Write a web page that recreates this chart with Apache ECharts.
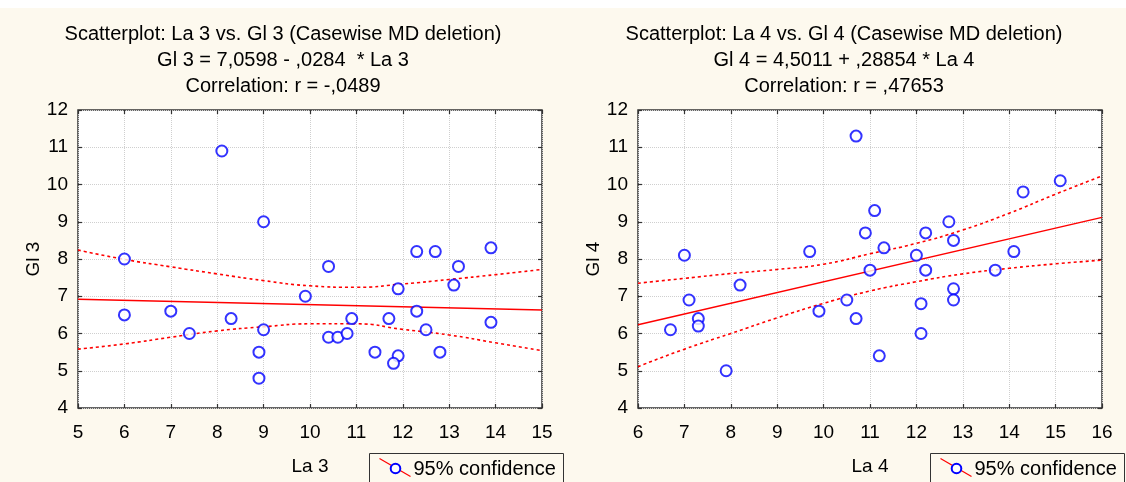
<!DOCTYPE html>
<html>
<head>
<meta charset="utf-8">
<script src="https://cdn.jsdelivr.net/npm/echarts@6/dist/echarts.min.js"></script>
<style>
html,body{margin:0;padding:0;background:#fff;}
#c{width:1126px;height:482px;}
</style>
</head>
<body>
<div id="c"></div>
<script>
// ---- Left plot data (La 3 vs Gl 3) ----
const la3 = [6, 6, 8.1, 9, 7, 7.4, 8.3, 9, 8.9, 8.9, 9.9, 10.4, 10.4, 10.6, 10.8, 10.9, 11.4, 11.7, 11.9, 11.9, 11.8, 12.3, 12.3, 12.7, 12.5, 12.8, 13.2, 13.1, 13.9, 13.9];
const gl3 = [8, 6.5, 10.9, 9, 6.6, 6.0, 6.4, 6.1, 5.5, 4.8, 7.0, 7.8, 5.9, 5.9, 6.0, 6.4, 5.5, 6.4, 7.2, 5.4, 5.2, 8.2, 6.6, 8.2, 6.1, 5.5, 7.8, 7.3, 8.3, 6.3];
const fit3 = { intercept: 7.0598, slope: -0.0284 };
const band3X = [5, 6, 7, 8, 9, 10, 11, 12, 13, 14, 15];
const band3Upper = [8.24, 7.99, 7.79, 7.6, 7.42, 7.28, 7.24, 7.33, 7.45, 7.58, 7.72];
const band3Lower = [5.58, 5.72, 5.9, 6.07, 6.18, 6.26, 6.26, 6.11, 5.96, 5.75, 5.54];

// ---- Right plot data (La 4 vs Gl 4) ----
const la4 = [10.7, 11.1, 10.9, 9.7, 7.0, 8.2, 7.1, 7.3, 7.3, 6.7, 7.9, 9.9, 10.5, 10.7, 11.0, 11.2, 11.3, 12.0, 12.2, 12.2, 12.1, 12.1, 12.7, 12.8, 12.8, 12.8, 13.7, 14.1, 14.3, 15.1];
const gl4 = [11.3, 9.3, 8.7, 8.2, 8.1, 7.3, 6.9, 6.4, 6.2, 6.1, 5.0, 6.6, 6.9, 6.4, 7.7, 5.4, 8.3, 8.1, 8.7, 7.7, 6.8, 6.0, 9.0, 8.5, 7.2, 6.9, 7.7, 8.2, 9.8, 10.1];
const fit4 = { intercept: 4.5011, slope: 0.28854 };
const band4X = [6, 7, 8, 9, 10, 11, 12, 13, 14, 15, 16];
const band4Upper = [7.35, 7.48, 7.61, 7.72, 7.86, 8.14, 8.42, 8.78, 9.23, 9.74, 10.23];
const band4Lower = [5.11, 5.58, 6.0, 6.42, 6.81, 7.14, 7.39, 7.6, 7.75, 7.87, 7.97];

// ---- Text ----
const titles = [
  'Scatterplot: La 3 vs. Gl 3 (Casewise MD deletion)\nGl 3 = 7,0598 - ,0284  * La 3\nCorrelation: r = -,0489',
  'Scatterplot: La 4 vs. Gl 4 (Casewise MD deletion)\nGl 4 = 4,5011 + ,28854 * La 4\nCorrelation: r = ,47653'
];
const xNames = ['La 3', 'La 4'];
const yNames = ['Gl 3', 'Gl 4'];
const legendText = '95% confidence';

const FONT = 'Liberation Sans, Arial, sans-serif';
const FRAME = '#333333';
const zip = (a, b) => a.map((v, i) => [v, b[i]]);

const panels = [
  { xs: la3, ys: gl3, fit: fit3, bx: band3X, bu: band3Upper, bl: band3Lower, xmin: 5, xmax: 15, left: 78 },
  { xs: la4, ys: gl4, fit: fit4, bx: band4X, bu: band4Upper, bl: band4Lower, xmin: 6, xmax: 16, left: 638 }
];

const grid = [], xAxis = [], yAxis = [], series = [], title = [];
panels.forEach((p, i) => {
  grid.push({ left: p.left, top: 110, width: 464, height: 298, show: true, backgroundColor: '#ffffff', borderColor: FRAME, borderWidth: 1.5 });
  const tick = { show: true, inside: true, length: 4, lineStyle: { color: FRAME, width: 1.2 } };
  xAxis.push({
    type: 'value', gridIndex: i, min: p.xmin, max: p.xmax, interval: 1, position: 'bottom',
    axisLine: { show: false }, axisTick: tick,
    axisLabel: { color: '#000', fontFamily: FONT, fontSize: 19, margin: 15 },
    splitLine: { show: true, lineStyle: { color: '#cfcfcf', type: [1, 1], width: 1 } },
    name: xNames[i], nameLocation: 'middle', nameGap: 49,
    nameTextStyle: { color: '#000', fontFamily: FONT, fontSize: 19 }
  });
  xAxis.push({
    type: 'value', gridIndex: i, min: p.xmin, max: p.xmax, interval: 1, position: 'top',
    axisLine: { show: false }, axisTick: tick, axisLabel: { show: false }, splitLine: { show: false }
  });
  yAxis.push({
    type: 'value', gridIndex: i, min: 4, max: 12, interval: 1, position: 'left',
    axisLine: { show: false }, axisTick: tick,
    axisLabel: { color: '#000', fontFamily: FONT, fontSize: 19, margin: 10 },
    splitLine: { show: true, lineStyle: { color: '#cfcfcf', type: [1, 1], width: 1 } },
    name: yNames[i], nameLocation: 'middle', nameGap: 34, nameRotate: 90,
    nameTextStyle: { color: '#000', fontFamily: FONT, fontSize: 19 }
  });
  yAxis.push({
    type: 'value', gridIndex: i, min: 4, max: 12, interval: 1, position: 'right',
    axisLine: { show: false }, axisTick: tick, axisLabel: { show: false }, splitLine: { show: false }
  });
  title.push({
    text: titles[i], left: i === 0 ? 283 : 844, top: 21, padding: 0, textAlign: 'center',
    textStyle: { color: '#000', fontFamily: FONT, fontSize: 20, fontWeight: 'normal', lineHeight: 26 }
  });
  const xi = i * 2, yi = i * 2;
  series.push({
    type: 'line', xAxisIndex: xi, yAxisIndex: yi, smooth: true, showSymbol: false, silent: true,
    data: zip(p.bx, p.bu), lineStyle: { color: '#ff0000', width: 1.6, type: [3, 3] }, z: 2
  });
  series.push({
    type: 'line', xAxisIndex: xi, yAxisIndex: yi, smooth: true, showSymbol: false, silent: true,
    data: zip(p.bx, p.bl), lineStyle: { color: '#ff0000', width: 1.6, type: [3, 3] }, z: 2
  });
  series.push({
    type: 'line', xAxisIndex: xi, yAxisIndex: yi, showSymbol: false, silent: true,
    data: [[p.xmin, p.fit.intercept + p.fit.slope * p.xmin], [p.xmax, p.fit.intercept + p.fit.slope * p.xmax]],
    lineStyle: { color: '#ff0000', width: 1.5 }, z: 2
  });
  series.push({
    type: 'scatter', xAxisIndex: xi, yAxisIndex: yi, symbol: 'emptyCircle', symbolSize: 11,
    data: zip(p.xs, p.ys), itemStyle: { color: '#0000ff', borderColor: '#0000ff', borderWidth: 2 }, z: 3
  });
});

function legendBox(x) {
  return {
    type: 'group', left: x, top: 453,
    children: [
      { type: 'rect', shape: { x: 0, y: 0, width: 194, height: 34 }, style: { fill: 'transparent', stroke: FRAME, lineWidth: 1 } },
      { type: 'line', shape: { x1: 10, y1: 5, x2: 41, y2: 23 }, style: { stroke: '#ff0000', lineWidth: 1.2 } },
      { type: 'circle', shape: { cx: 26, cy: 15, r: 4.8 }, style: { fill: '#ffffff', stroke: '#0000ff', lineWidth: 2 } },
      { type: 'text', x: 44, y: 16, style: { text: legendText, fill: '#000', font: '20px ' + FONT, textVerticalAlign: 'middle' } }
    ]
  };
}

const chart = echarts.init(document.getElementById('c'), null, { renderer: 'canvas' });
chart.setOption({
  backgroundColor: '#fdf9ee',
  animation: false,
  title, grid, xAxis, yAxis, series,
  graphic: [
    { type: 'rect', left: 0, top: 0, shape: { width: 1126, height: 8 }, style: { fill: '#ffffff' }, z: -1 },
    legendBox(369),
    legendBox(930)
  ]
});
</script>
</body>
</html>
